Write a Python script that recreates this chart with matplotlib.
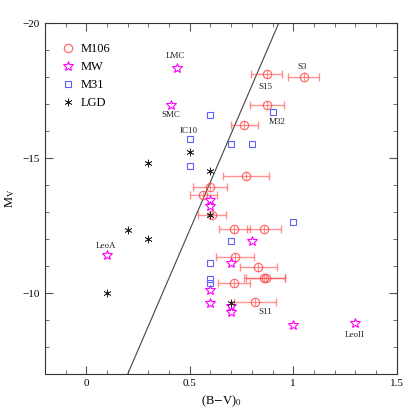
import matplotlib
matplotlib.use("Agg")
import matplotlib.pyplot as plt
import numpy as np

plt.rcParams['font.family'] = ['Liberation Serif', 'DejaVu Serif']
plt.rcParams['mathtext.fontset'] = 'stix'

# M106 clusters: colour, M_V, colour error
m106_x = [0.872, 1.051, 0.873, 0.764, 0.771, 0.599, 0.566, 0.606, 0.716, 0.858,
          0.720, 0.831, 0.860, 0.866, 0.712, 0.815]
m106_y = [-18.10, -18.02, -16.95, -16.22, -14.35, -13.94, -13.64, -12.89, -12.36, -12.36,
          -11.32, -10.95, -10.57, -10.56, -10.38, -9.66]
m106_xerr = [0.074, 0.075, 0.084, 0.067, 0.110, 0.081, 0.065, 0.067, 0.075, 0.081,
             0.091, 0.090, 0.100, 0.095, 0.078, 0.103]
m106_yerr = 0.15

mw_x = [0.44, 0.41, 0.60, 0.60, 0.80, 0.10, 0.70, 0.60, 0.60, 0.70, 0.70, 1.00, 1.30]
mw_y = [-18.33, -16.97, -13.43, -13.24, -11.94, -11.41, -11.11, -10.12, -9.63, -9.52,
        -9.32, -8.81, -8.91]

m31_x = [0.60, 0.90, 0.50, 0.70, 0.80, 0.50, 1.00, 0.70, 0.60, 0.60, 0.60]
m31_y = [-16.61, -16.71, -15.72, -15.52, -15.52, -14.71, -12.62, -11.94, -11.11, -10.53, -10.37]

lgd_x = [0.50, 0.30, 0.60, 0.60, 0.20, 0.30, 0.10, 0.70]
lgd_y = [-15.21, -14.81, -14.52, -12.90, -12.32, -12.02, -10.02, -9.63]

# dividing line
line_x = [0.20, 0.93]
line_y = [-7.0, -20.0]

names = ['LMC', 'SMC', 'S15', 'S3', 'M32', 'IC10', 'LeoA', 'S11', 'LeoII']
name_x = [0.433, 0.41, 0.864, 1.043, 0.924, 0.496, 0.097, 0.864, 1.297]
name_y = [-18.77, -16.60, -17.63, -18.39, -16.32, -16.01, -11.76, -9.30, -8.44]

red = '#ff4a4a'
fig = plt.figure(figsize=(4.19, 4.19), dpi=100)
ax = fig.add_axes([0.107, 0.107, 0.840, 0.838])

ax.plot(line_x, line_y, color='#444444', lw=0.8)

ax.errorbar(m106_x, m106_y, xerr=m106_xerr, fmt='none', ecolor=red, alpha=0.6,
            elinewidth=1.0, capsize=3, capthick=1.0)
ax.errorbar(m106_x, m106_y, yerr=m106_yerr, fmt='none', ecolor=red, alpha=0.6,
            elinewidth=0.8, capsize=0)
ax.plot(m106_x, m106_y, 'o', mfc='none', mec=red, ms=6, mew=0.9, alpha=0.8,
        label='M106')
ax.plot(mw_x, mw_y, '*', mfc='none', mec='#ff00ff', ms=7, mew=0.8, label='MW')
ax.plot(m31_x, m31_y, 's', mfc='none', mec='#6060ff', ms=4.6, mew=0.8, label='M31')
ax.plot(lgd_x, lgd_y, marker=(6, 2, 0), ls='none', color='#222222', ms=5.5, mew=0.5,
        label='LGD')

for n, tx, ty in zip(names, name_x, name_y):
    ax.text(tx, ty, n, fontsize=6.5, ha='center', va='center', color='#222222')

ax.set_xlim(-0.2, 1.5)
ax.set_ylim(-7, -20)
ax.set_xticks([0, 0.5, 1, 1.5])
ax.set_xticklabels(['0', '0.5', '1', '1.5'])
ax.set_yticks([-20, -15, -10])
ax.set_xticks(np.arange(-0.1, 1.5, 0.1), minor=True)
ax.set_yticks(np.arange(-19, -6, 1), minor=True)
ax.tick_params(which='both', direction='in', top=True, right=True, labelsize=8,
               color='#555555')
ax.tick_params(which='major', length=6)
ax.tick_params(which='minor', length=3)
for s in ax.spines.values():
    s.set_color('#333333')
    s.set_linewidth(0.8)

ax.set_xlabel(r'(B$-$V)$_0$', fontsize=9)
ax.set_ylabel(r'M$_{\rm V}$', fontsize=9)

ax.legend(loc='upper left', bbox_to_anchor=(0.03, 0.956), frameon=False, fontsize=9,
          handletextpad=0.45, borderaxespad=0, labelspacing=0.47, handlelength=1.2)

fig.savefig('out.png', dpi=100)
